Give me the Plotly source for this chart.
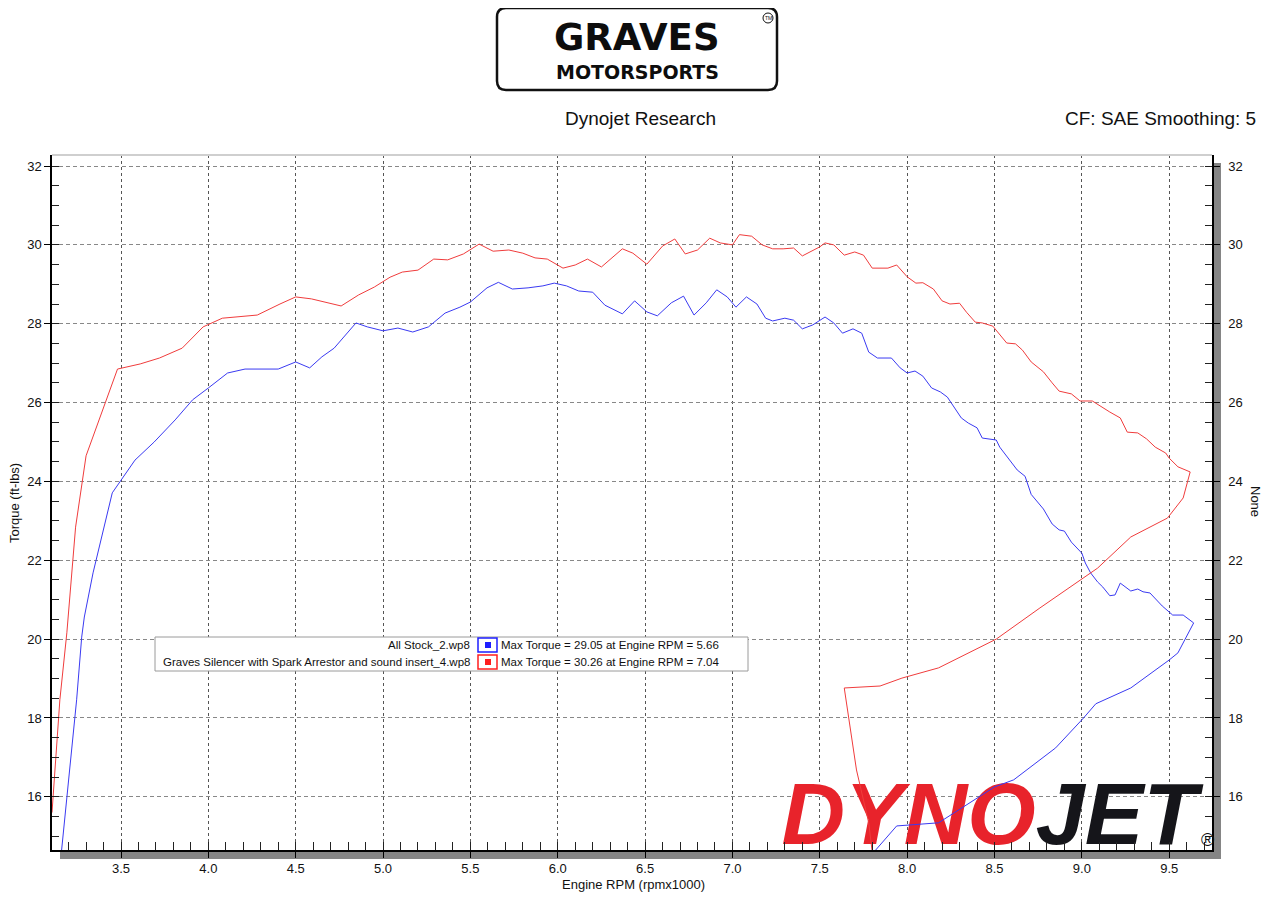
import plotly.graph_objects as go

# ---------------- data ----------------
stock_rpm = [3.16, 3.21, 3.246, 3.275, 3.29, 3.34, 3.45, 3.58, 3.69, 3.81, 3.91, 4.0, 4.11, 4.21, 4.40,
             4.50, 4.58, 4.65, 4.72, 4.845, 4.91, 5.0, 5.085, 5.17, 5.26, 5.355, 5.44, 5.50, 5.595, 5.66,
             5.74, 5.83, 5.915, 5.98, 6.05, 6.12, 6.20, 6.27, 6.37, 6.44, 6.51, 6.57, 6.65, 6.72, 6.78,
             6.85, 6.91, 6.97, 7.02, 7.08, 7.14, 7.19, 7.23, 7.30, 7.35, 7.40, 7.46, 7.53, 7.58, 7.63,
             7.69, 7.74, 7.78, 7.83, 7.91, 7.96, 8.0, 8.045, 8.09, 8.14, 8.19, 8.23, 8.26, 8.31, 8.35,
             8.40, 8.43, 8.51, 8.53, 8.57, 8.63, 8.675, 8.71, 8.78, 8.83, 8.87, 8.90, 8.94, 9.00, 9.02,
             9.05, 9.09, 9.12, 9.16, 9.19, 9.22, 9.28, 9.32, 9.35, 9.39, 9.42, 9.46, 9.52, 9.58, 9.64,
             9.55, 9.50, 9.28, 9.08, 9.01, 8.85, 8.61, 8.50, 8.18, 7.94, 7.82]
stock_tq = [14.65, 16.94, 18.46, 20.05, 20.56, 21.68, 23.71, 24.54, 25.0, 25.56, 26.07, 26.37, 26.75, 26.85, 26.85,
            27.03, 26.88, 27.16, 27.38, 28.02, 27.92, 27.82, 27.89, 27.79, 27.92, 28.27, 28.42, 28.55, 28.91, 29.05,
            28.88, 28.91, 28.96, 29.03, 28.96, 28.83, 28.80, 28.47, 28.25, 28.58, 28.30, 28.20, 28.53, 28.70, 28.22,
            28.53, 28.86, 28.68, 28.42, 28.68, 28.50, 28.14, 28.07, 28.14, 28.09, 27.87, 27.97, 28.17, 28.02, 27.76,
            27.87, 27.76, 27.28, 27.13, 27.13, 26.88, 26.75, 26.80, 26.67, 26.37, 26.27, 26.14, 25.94, 25.61, 25.48,
            25.36, 25.10, 25.05, 24.87, 24.65, 24.29, 24.13, 23.67, 23.30, 22.92, 22.77, 22.74, 22.46, 22.18, 21.93,
            21.68, 21.45, 21.32, 21.10, 21.12, 21.42, 21.22, 21.27, 21.20, 21.17, 21.02, 20.84, 20.61, 20.61, 20.41,
            19.65, 19.47, 18.76, 18.36, 18.00, 17.24, 16.43, 16.25, 15.34, 15.26, 14.65]

graves_rpm = [3.105, 3.15, 3.19, 3.24, 3.30, 3.36, 3.41, 3.48, 3.61, 3.72, 3.85, 3.97, 4.08, 4.28, 4.41,
              4.50, 4.59, 4.68, 4.76, 4.86, 4.95, 5.04, 5.11, 5.20, 5.29, 5.37, 5.46, 5.55, 5.63, 5.72,
              5.80, 5.87, 5.94, 6.03, 6.10, 6.17, 6.25, 6.37, 6.43, 6.51, 6.60, 6.67, 6.73, 6.80, 6.87,
              6.93, 7.00, 7.04, 7.11, 7.17, 7.23, 7.29, 7.35, 7.40, 7.50, 7.53, 7.58, 7.64, 7.70, 7.75,
              7.80, 7.89, 7.94, 8.00, 8.05, 8.09, 8.15, 8.20, 8.245, 8.30, 8.34, 8.39, 8.43, 8.49, 8.53,
              8.57, 8.62, 8.66, 8.71, 8.78, 8.83, 8.87, 8.94, 8.99, 9.06, 9.11, 9.16, 9.22, 9.26, 9.32,
              9.37, 9.42, 9.48, 9.50, 9.55, 9.62,
              9.58, 9.49, 9.28, 9.09, 8.76, 8.51, 8.18, 7.97, 7.845, 7.64, 7.71, 7.78, 7.80]
graves_tq = [15.60, 18.46, 20.16, 22.84, 24.65, 25.38, 25.99, 26.85, 26.98, 27.13, 27.38, 27.92, 28.14, 28.22, 28.50,
             28.68, 28.63, 28.53, 28.45, 28.73, 28.93, 29.18, 29.31, 29.36, 29.64, 29.62, 29.77, 30.02, 29.84, 29.87,
             29.79, 29.67, 29.64, 29.41, 29.49, 29.64, 29.44, 29.90, 29.79, 29.51, 29.97, 30.15, 29.77, 29.87, 30.17,
             30.05, 30.00, 30.26, 30.22, 30.00, 29.90, 29.90, 29.92, 29.72, 29.95, 30.05, 30.00, 29.74, 29.82, 29.74,
             29.41, 29.41, 29.49, 29.19, 29.03, 29.04, 28.88, 28.58, 28.50, 28.52, 28.29, 28.04, 28.02, 27.94, 27.71,
             27.51, 27.49, 27.33, 27.03, 26.78, 26.50, 26.29, 26.22, 26.04, 26.04, 25.89, 25.76, 25.61, 25.25, 25.23,
             25.08, 24.87, 24.72, 24.59, 24.37, 24.24,
             23.58, 23.07, 22.59, 21.80, 20.79, 20.00, 19.27, 19.01, 18.81, 18.76, 16.68, 15.34, 14.60]

run_names = ["All Stock_2.wp8", "Graves Silencer with Spark Arrestor and sound insert_4.wp8"]
max_torque = [29.05, 30.26]
max_rpm = [5.66, 7.04]

x_ticks = [3.5, 4.0, 4.5, 5.0, 5.5, 6.0, 6.5, 7.0, 7.5, 8.0, 8.5, 9.0, 9.5]
x_tick_labels = ["3.5", "4.0", "4.5", "5.0", "5.5", "6.0", "6.5", "7.0", "7.5", "8.0", "8.5", "9.0", "9.5"]
y_ticks = [16, 18, 20, 22, 24, 26, 28, 30, 32]
y_tick_labels = ["16", "18", "20", "22", "24", "26", "28", "30", "32"]

X_RANGE = [3.105, 9.745]
Y_RANGE = [14.65, 32.28]

# ---------------- layout helpers (screen pixel -> paper) ----------------
OFF = 8                    # page body margin
W, H = 1264, 884           # figure size (fits the 1280x900 window with the body margin)
L, R, T, B = 52, 1212, 155, 850   # plot area in screen pixels


def px(x):
    return (x - L) / (R - L)


def py(y):
    return (B - y) / (B - T)


FONT = "Liberation Sans, Arial, sans-serif"
BLUE = "#3a3af2"
RED = "#f03c3c"

fig = go.Figure()

# DYNOJET logo (drawn first so the curves sit on top)
fig.add_trace(go.Scatter(
    x=[X_RANGE[1] - 0.085], y=[Y_RANGE[0] + 0.70], mode="text",
    text=["<b><i><span style='color:#e8232b'>DYNO</span><span style='color:#15151a'>JET</span></i></b>"],
    textposition="middle left", cliponaxis=False, hoverinfo="skip", showlegend=False,
    textfont=dict(family=FONT, size=88, weight="bold", style="italic", color="#15151a"),
))

fig.add_trace(go.Scatter(x=stock_rpm, y=stock_tq, mode="lines", name=run_names[0],
                         line=dict(color=BLUE, width=1), hoverinfo="x+y"))
fig.add_trace(go.Scatter(x=graves_rpm, y=graves_tq, mode="lines", name=run_names[1],
                         line=dict(color=RED, width=1), hoverinfo="x+y"))
# dummy trace to realise the right-hand axis
fig.add_trace(go.Scatter(x=[None], y=[None], yaxis="y2", showlegend=False, hoverinfo="skip"))

axis_common = dict(showline=True, linecolor="#000", linewidth=1.5, zeroline=False,
                   tickfont=dict(family=FONT, size=13, color="#111"), ticks="outside",
                   ticklen=6, tickcolor="#000", tickwidth=1)

fig.update_layout(
    width=W, height=H,
    margin=dict(l=L - OFF, r=(W + OFF) - R, t=T - OFF, b=(H + OFF) - B, autoexpand=False),
    paper_bgcolor="white", plot_bgcolor="white", showlegend=False,
    font=dict(family=FONT, size=13, color="#111"),
    xaxis=dict(range=X_RANGE, tickmode="array", tickvals=x_ticks, ticktext=x_tick_labels,
               showgrid=True, gridcolor="#555", griddash="3px,3px", gridwidth=1,
               minor=dict(tickmode="linear", tick0=0, dtick=0.1, ticks="inside", ticklen=8,
                          tickcolor="#222", showgrid=False),
               **axis_common),
    yaxis=dict(range=Y_RANGE, tickmode="array", tickvals=y_ticks, ticktext=y_tick_labels,
               showgrid=True, gridcolor="#888", griddash="4px,3px", gridwidth=1,
               minor=dict(tickmode="linear", tick0=0, dtick=0.5, ticks="inside", ticklen=7,
                          tickcolor="#222", showgrid=False),
               **axis_common),
    yaxis2=dict(range=Y_RANGE, overlaying="y", side="right", tickmode="array", tickvals=y_ticks,
                ticktext=y_tick_labels, showgrid=False, ticklabelstandoff=6,
                minor=dict(tickmode="linear", tick0=0, dtick=0.5, ticks="inside", ticklen=7,
                           tickcolor="#222", showgrid=False),
                **axis_common),
)

shapes = []
# drop shadow bars
shapes.append(dict(type="rect", xref="paper", yref="paper", x0=px(1213), x1=px(1221), y0=py(859), y1=py(163),
                   line=dict(width=0), fillcolor="#858585", layer="below"))
shapes.append(dict(type="rect", xref="paper", yref="paper", x0=px(60), x1=px(1221), y0=py(859), y1=py(851),
                   line=dict(width=0), fillcolor="#858585", layer="below"))
# light top border
shapes.append(dict(type="line", xref="paper", yref="paper", x0=0, x1=1, y0=1, y1=1,
                   line=dict(color="#cfcfcf", width=2)))

# legend box
shapes.append(dict(type="rect", xref="paper", yref="paper", x0=px(155), x1=px(748), y0=py(671), y1=py(637),
                   line=dict(color="#9a9a9a", width=1), fillcolor="white", layer="above"))
row_y = [645, 662]
annotations = []
for i in range(2):
    cy = row_y[i]
    c = "#1e1eff" if i == 0 else "#ff1e1e"
    shapes.append(dict(type="rect", xref="paper", yref="paper", x0=px(478), x1=px(497),
                       y0=py(cy + 7), y1=py(cy - 7), line=dict(color=c, width=1.5), fillcolor="white"))
    shapes.append(dict(type="rect", xref="paper", yref="paper", x0=px(485), x1=px(491),
                       y0=py(cy + 3), y1=py(cy - 3), line=dict(width=0), fillcolor=c))
    annotations.append(dict(xref="paper", yref="paper", x=px(472), y=py(cy), xanchor="right", yanchor="middle",
                            text=run_names[i], showarrow=False, font=dict(family=FONT, size=11.5, color="#111")))
    annotations.append(dict(xref="paper", yref="paper", x=px(499), y=py(cy), xanchor="left", yanchor="middle",
                            text=f"Max Torque = {max_torque[i]:.2f} at Engine RPM = {max_rpm[i]:.2f}",
                            showarrow=False, font=dict(family=FONT, size=11.5, color="#111")))

# Graves logo box with rounded corners
gx0, gx1, gy0, gy1 = 497, 777, 8, 90
rr = 9
path = (f"M {px(gx0 + rr)} {py(gy0)} L {px(gx1 - rr)} {py(gy0)} "
        f"Q {px(gx1)} {py(gy0)} {px(gx1)} {py(gy0 + rr)} L {px(gx1)} {py(gy1 - rr)} "
        f"Q {px(gx1)} {py(gy1)} {px(gx1 - rr)} {py(gy1)} L {px(gx0 + rr)} {py(gy1)} "
        f"Q {px(gx0)} {py(gy1)} {px(gx0)} {py(gy1 - rr)} L {px(gx0)} {py(gy0 + rr)} "
        f"Q {px(gx0)} {py(gy0)} {px(gx0 + rr)} {py(gy0)} Z")
shapes.append(dict(type="path", xref="paper", yref="paper", path=path, line=dict(color="#111", width=2.5)))
shapes.append(dict(type="circle", xref="paper", yref="paper", x0=px(763), x1=px(773), y0=py(23), y1=py(13),
                   line=dict(color="#111", width=1)))

annotations += [
    dict(xref="paper", yref="paper", x=px(637), y=py(38), text="<b>GRAVES</b>", showarrow=False, borderpad=0,
         font=dict(family="DejaVu Sans, sans-serif", size=37, color="#0d0d0d"), xanchor="center", yanchor="middle"),
    dict(xref="paper", yref="paper", x=px(637), y=py(72), text="<b>MOTORSPORTS</b>", showarrow=False, borderpad=0,
         font=dict(family="DejaVu Sans, sans-serif", size=19, color="#0d0d0d"), xanchor="center", yanchor="middle"),
    dict(xref="paper", yref="paper", x=px(768), y=py(18), text="TM", showarrow=False,
         font=dict(family=FONT, size=5, color="#111"), xanchor="center", yanchor="middle"),
    dict(xref="paper", yref="paper", x=px(640), y=py(118), text="Dynojet Research", showarrow=False,
         font=dict(family=FONT, size=19, color="#111"), xanchor="center", yanchor="middle"),
    dict(xref="paper", yref="paper", x=px(1258), y=py(118), text="CF: SAE Smoothing: 5", showarrow=False,
         font=dict(family=FONT, size=19, color="#111"), xanchor="right", yanchor="middle"),
    dict(xref="paper", yref="paper", x=px(633), y=py(885), text="Engine RPM (rpmx1000)", showarrow=False,
         font=dict(family=FONT, size=13, color="#111"), xanchor="center", yanchor="middle"),
    dict(xref="paper", yref="paper", x=px(15), y=py(503), text="Torque (ft-lbs)", showarrow=False, textangle=-90,
         font=dict(family=FONT, size=13, color="#111"), xanchor="center", yanchor="middle"),
    dict(xref="paper", yref="paper", x=px(1256), y=py(501), text="None", showarrow=False, textangle=90,
         font=dict(family=FONT, size=13, color="#111"), xanchor="center", yanchor="middle"),
    dict(xref="paper", yref="paper", x=px(1207), y=py(840), text="®", showarrow=False, borderpad=0,
         font=dict(family=FONT, size=18, color="#111"), xanchor="center", yanchor="middle"),
]

fig.update_layout(shapes=shapes, annotations=annotations)
fig.write_html("out.html")
